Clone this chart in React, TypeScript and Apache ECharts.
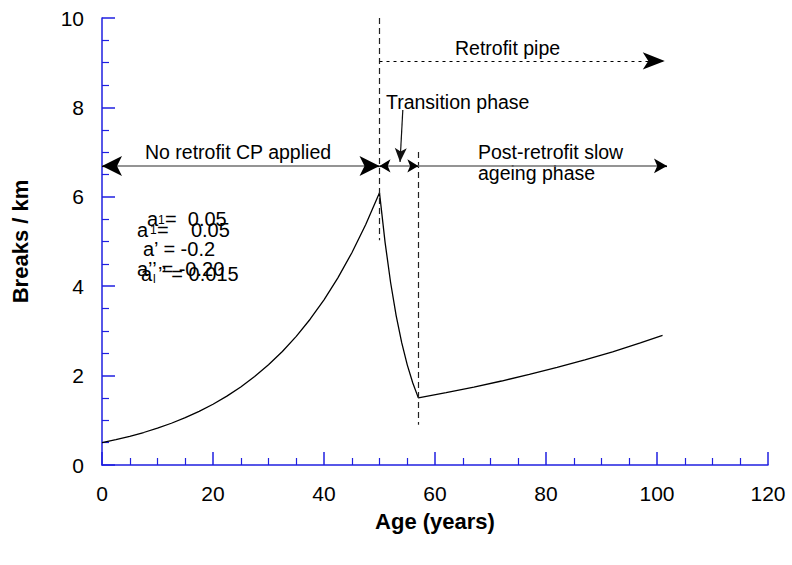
import React, { useEffect, useRef } from "react";
import * as echarts from "echarts";

// Curve: exponential ageing, sharp transition, slow ageing
const ages = [
  0, 2.5, 5, 7.5, 10, 12.5, 15, 17.5, 20, 22.5, 25, 27.5, 30, 32.5, 35, 37.5, 40, 42.5, 45, 47.5, 50,
  51, 52, 53, 54, 55, 56, 57,
  62, 67, 72, 77, 82, 87, 92, 97, 101,
];
const breaks = [
  0.5, 0.566, 0.642, 0.727, 0.824, 0.934, 1.058, 1.2, 1.359, 1.54, 1.745, 1.978, 2.241, 2.54, 2.877, 3.261, 3.695, 4.187, 4.744, 5.376, 6.091,
  4.987, 4.083, 3.343, 2.737, 2.241, 1.835, 1.502,
  1.618, 1.744, 1.879, 2.025, 2.182, 2.351, 2.533, 2.73, 2.898,
];

// Annotation geometry in data units
const dividerA = { age: 50, from: 10, to: 5.03 };
const dividerB = { age: 57, from: 7.0, to: 0.9 };
const phaseArrowY = 6.69;
const pipeArrowY = 9.04;
const phaseBounds = [0, 50, 57, 101.8];
const pipeBounds = [50, 101.4];
const transitionPointer = { from: [54.2, 7.94], to: [53.7, 6.78] };

const xTicks = { min: 0, max: 120, interval: 20 };
const yTicks = { min: 0, max: 10, interval: 2 };

const FONT = "'Liberation Sans', Arial, sans-serif";
const AXIS_BLUE = "#1f1fe0";
const GRAY = "#707070";

export default function App() {
  const ref = useRef<HTMLDivElement>(null);
  useEffect(() => {
    if (!ref.current) return;
    const chart = echarts.init(ref.current, null, { renderer: "svg" });
    const axisCommon = {
      axisLine: { show: true, lineStyle: { color: AXIS_BLUE, width: 1.5 } },
      axisTick: { show: true, inside: true, length: 13, lineStyle: { color: AXIS_BLUE, width: 1.5 } },
      minorTick: { show: true, splitNumber: 4, length: 7, lineStyle: { color: AXIS_BLUE, width: 1.2 } },
      splitLine: { show: false },
      axisLabel: { color: "#000", fontSize: 21, fontFamily: FONT, margin: 18 },
      nameTextStyle: { color: "#000", fontSize: 22, fontWeight: "bold" as const, fontFamily: FONT },
    };
    const data = ages.map((a, i) => [a, breaks[i]]);
    const solid = (color: string, width = 1.6) => ({ type: "solid", color, width });
    const headBig = [15, 20];
    const headSmall = [10, 11];
    const [p0, p1, p2, p3] = phaseBounds;
    chart.setOption({
      animation: false,
      grid: { left: 102, top: 18, right: 24, bottom: 100, containLabel: false },
      xAxis: {
        type: "value",
        ...xTicks,
        name: "Age (years)",
        nameLocation: "middle",
        nameGap: 45,
        ...axisCommon,
      },
      yAxis: {
        type: "value",
        ...yTicks,
        name: "Breaks / km",
        nameLocation: "middle",
        nameGap: 71,
        ...axisCommon,
      },
      series: [
        {
          type: "line",
          data,
          showSymbol: false,
          lineStyle: { color: "#000", width: 1.3 },
          silent: true,
          markLine: {
            silent: true,
            animation: false,
            label: { show: false },
            data: [
              [
                { coord: [dividerA.age, dividerA.from], symbol: "none", lineStyle: { type: [6, 4], color: "#222", width: 1.2 } },
                { coord: [dividerA.age, dividerA.to], symbol: "none" },
              ],
              [
                { coord: [dividerB.age, dividerB.from], symbol: "none", lineStyle: { type: [6, 4], color: "#222", width: 1.2 } },
                { coord: [dividerB.age, dividerB.to], symbol: "none" },
              ],
              // No retrofit CP applied: gray shaft, black heads
              [
                { coord: [p0, phaseArrowY], symbol: "none", lineStyle: solid(GRAY) },
                { coord: [p1, phaseArrowY], symbol: "none" },
              ],
              [
                { coord: [p0 + 2, phaseArrowY], symbol: "none", lineStyle: solid("#000", 1.2) },
                { coord: [p0, phaseArrowY], symbol: "arrow", symbolSize: headBig },
              ],
              [
                { coord: [p1 - 2, phaseArrowY], symbol: "none", lineStyle: solid("#000", 1.2) },
                { coord: [p1, phaseArrowY], symbol: "arrow", symbolSize: headBig },
              ],
              // Transition phase
              [
                { coord: [p1, phaseArrowY], symbol: "none", lineStyle: solid(GRAY) },
                { coord: [p2, phaseArrowY], symbol: "none" },
              ],
              [
                { coord: [p1 + 1.5, phaseArrowY], symbol: "none", lineStyle: solid("#000", 1.2) },
                { coord: [p1, phaseArrowY], symbol: "arrow", symbolSize: headSmall },
              ],
              [
                { coord: [p2 - 1.5, phaseArrowY], symbol: "none", lineStyle: solid("#000", 1.2) },
                { coord: [p2, phaseArrowY], symbol: "arrow", symbolSize: headSmall },
              ],
              // Post-retrofit
              [
                { coord: [p2, phaseArrowY], symbol: "none", lineStyle: solid(GRAY) },
                { coord: [p3, phaseArrowY], symbol: "none" },
              ],
              [
                { coord: [p3 - 1.5, phaseArrowY], symbol: "none", lineStyle: solid("#000", 1.2) },
                { coord: [p3, phaseArrowY], symbol: "arrow", symbolSize: [11, 13] },
              ],
              // Retrofit pipe
              [
                { coord: [pipeBounds[0], pipeArrowY], symbol: "none", lineStyle: { type: [3, 4], color: "#000", width: 1.2 } },
                { coord: [pipeBounds[1], pipeArrowY], symbol: "arrow", symbolSize: [13, 22] },
              ],
              [
                { coord: transitionPointer.from, symbol: "none", lineStyle: solid("#111", 1.2) },
                { coord: transitionPointer.to, symbol: "arrow", symbolSize: [9, 14] },
              ],
            ],
          },
        },
      ],
      graphic: [
        { type: "text", left: 455, top: 38, style: { text: "Retrofit pipe", font: `19.5px ${FONT}`, fill: "#000" } },
        { type: "text", left: 386, top: 92, style: { text: "Transition phase", font: `19.5px ${FONT}`, fill: "#000" } },
        { type: "text", left: 145, top: 142, style: { text: "No retrofit CP applied", font: `19.5px ${FONT}`, fill: "#000" } },
        { type: "text", left: 478, top: 142, style: { text: "Post-retrofit slow", font: `19.5px ${FONT}`, fill: "#000" } },
        { type: "text", left: 478, top: 163, style: { text: "ageing phase", font: `19.5px ${FONT}`, fill: "#000" } },
        { type: "text", left: 147, top: 209, style: { text: "a", font: `20px ${FONT}`, fill: "#000" } },
        { type: "text", left: 158, top: 214, style: { text: "1", font: `12px ${FONT}`, fill: "#000" } },
        { type: "text", left: 165, top: 209, style: { text: "=  0.05", font: `20px ${FONT}`, fill: "#000" } },
        { type: "text", left: 137, top: 220, style: { text: "a", font: `20px ${FONT}`, fill: "#000" } },
        { type: "text", left: 150, top: 224, style: { text: "1", font: `12px ${FONT}`, fill: "#000" } },
        { type: "text", left: 157, top: 220, style: { text: "=    0.05", font: `20px ${FONT}`, fill: "#000" } },
        { type: "text", left: 143, top: 239, style: { text: "a\u2019 = -0.2", font: `20px ${FONT}`, fill: "#000" } },
        { type: "text", left: 137, top: 259, style: { text: "a\u2019\u2019 = -0.20", font: `20px ${FONT}`, fill: "#000" } },
        { type: "text", left: 141, top: 264, style: { text: "a", font: `20px ${FONT}`, fill: "#000" } },
        { type: "text", left: 153, top: 273, style: { text: "l", font: `12px ${FONT}`, fill: "#000" } },
        { type: "text", left: 158, top: 264, style: { text: "\u2019\u2019 = 0.015", font: `20px ${FONT}`, fill: "#000" } },
      ],
    });
    return () => chart.dispose();
  }, []);
  return <div ref={ref} style={{ position: "absolute", left: 0, top: 0, width: 792, height: 565 }} />;
}
